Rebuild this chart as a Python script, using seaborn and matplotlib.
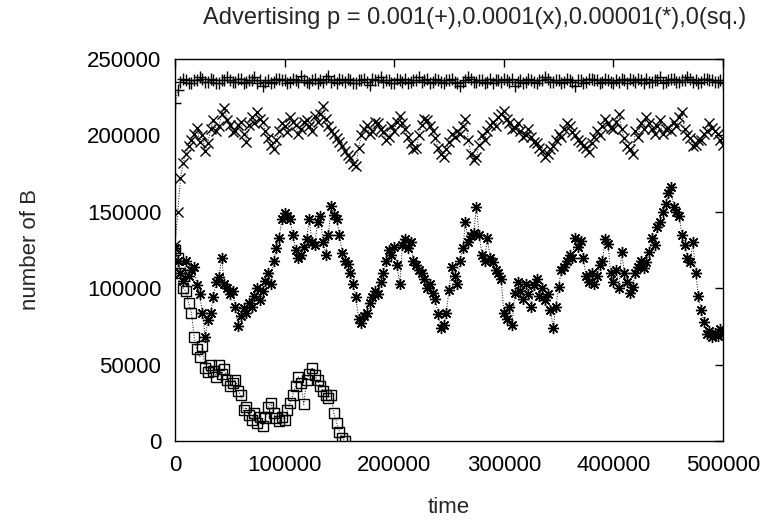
import numpy as np
import pandas as pd
import matplotlib
matplotlib.use("Agg")
import matplotlib.pyplot as plt
import seaborn as sns

# ======================
# Data (values in thousands)
# ======================
t_fine = np.arange(0, 500001, 2500)
t_sq = np.arange(0, 155001, 2500)

# p = 0.001  (+)
plus_k = [221, 230, 235, 237, 236, 234, 234, 236, 236, 238, 237, 235, 235, 237, 236, 234, 234, 236, 236, 238,
          236, 235, 235, 237, 237, 234, 235, 236, 236, 238, 234, 236, 232, 235, 236, 234, 235, 237, 237, 236,
          236, 234, 235, 237, 236, 235, 239, 236, 235, 234, 236, 237, 234, 236, 235, 237, 239, 235, 236, 234,
          237, 236, 235, 237, 236, 234, 234, 236, 236, 237, 235, 233, 237, 236, 236, 238, 235, 236, 236, 234,
          234, 237, 236, 235, 237, 234, 235, 236, 236, 238, 235, 236, 237, 234, 235, 237, 236, 235, 234, 236,
          236, 237, 235, 234, 232, 235, 236, 238, 237, 235, 235, 236, 236, 234, 235, 237, 234, 236, 236, 235,
          237, 236, 235, 237, 232, 235, 236, 234, 235, 237, 236, 235, 234, 236, 236, 238, 237, 235, 235, 236,
          236, 234, 235, 237, 236, 235, 232, 236, 236, 234, 235, 237, 237, 236, 236, 234, 235, 237, 236, 235,
          234, 236, 235, 237, 236, 234, 237, 236, 235, 237, 236, 234, 237, 235, 235, 236, 236, 238, 234, 235,
          236, 237, 237, 235, 235, 236, 236, 238, 237, 235, 236, 234, 235, 237, 237, 236, 236, 235, 235, 236,
          234]

# p = 0.0001  (x)
cross_k = [128, 150, 172, 182, 188, 193, 197, 201, 205, 196, 200, 190, 195, 204, 210, 203, 206, 214, 218, 210,
           207, 202, 203, 207, 209, 201, 196, 207, 212, 208, 215, 211, 209, 203, 198, 194, 191, 197, 203, 208,
           206, 202, 212, 209, 207, 201, 204, 209, 210, 206, 203, 213, 209, 214, 219, 211, 206, 203, 201, 198,
           196, 193, 190, 187, 185, 181, 180, 192, 200, 204, 207, 201, 203, 209, 208, 204, 202, 197, 199, 206,
           203, 209, 213, 208, 204, 199, 195, 191, 192, 200, 207, 211, 210, 206, 203, 198, 192, 188, 186, 191,
           196, 201, 199, 203, 201, 206, 211, 197, 188, 184, 186, 194, 200, 197, 203, 207, 209, 206, 212, 214,
           216, 211, 208, 204, 205, 208, 203, 199, 200, 204, 199, 196, 195, 192, 190, 186, 188, 191, 193, 197,
           201, 199, 204, 208, 206, 202, 200, 197, 196, 193, 192, 189, 195, 199, 203, 200, 206, 211, 208, 205,
           204, 209, 214, 204, 198, 193, 191, 188, 203, 199, 208, 204, 212, 208, 204, 201, 206, 210, 201, 204,
           205, 203, 209, 206, 212, 215, 204, 200, 198, 193, 194, 197, 197, 201, 203, 208, 205, 203, 201, 197,
           194]

# p = 0.00001  (*)
star_k = [126, 118, 110, 105, 118, 108, 112, 114, 102, 96,
          84, 68, 79, 84, 94, 104, 107, 120, 103, 100,
          96, 98, 88, 75, 82, 87, 84, 90, 88, 95,
          100, 92, 98, 105, 110, 103, 118, 126, 133, 145,
          149, 147, 145, 135, 125, 120, 122, 127, 132, 145,
          130, 128, 143, 147, 130, 122, 135, 154, 148, 145,
          135, 123, 118, 116, 110, 103, 94, 80, 77, 82,
          84, 90, 94, 98, 96, 104, 110, 118, 125, 122,
          127, 115, 103, 128, 132, 126, 130, 118, 115, 112,
          110, 106, 100, 103, 97, 93, 83, 74, 76, 84,
          99, 114, 108, 103, 118, 126, 143, 130, 134, 136,
          153, 135, 122, 118, 133, 120, 117, 112, 110, 106,
          84, 80, 88, 76, 97, 104, 98, 93, 103, 96,
          88, 102, 106, 95, 100, 92, 96, 86, 74, 88,
          101, 112, 114, 118, 122, 120, 133, 127, 131, 120,
          108, 104, 110, 103, 108, 115, 118, 132, 129, 110,
          104, 112, 100, 124, 110, 104, 97, 101, 110, 114,
          118, 113, 117, 124, 133, 128, 140, 143, 150, 155,
          162, 166, 153, 150, 147, 135, 128, 120, 117, 130,
          110, 95, 86, 78, 70, 72, 68, 71, 69, 73,
          70]

# p = 0  (sq.)
square_k = [125, 120, 110, 100, 98, 90, 84, 68, 60, 55,
            62, 48, 45, 50, 46, 42, 50, 44, 47, 40,
            36, 38, 40, 33, 30, 20, 22, 17, 14, 18,
            12, 16, 10, 15, 22, 25, 18, 15, 13, 16,
            14, 20, 25, 30, 36, 42, 38, 24, 40, 44,
            48, 43, 40, 36, 33, 30, 28, 30, 18, 12,
            6, 2, 0]

x_ticks = [0, 100000, 200000, 300000, 400000, 500000]
y_ticks = [0, 50000, 100000, 150000, 200000, 250000]

# ======================
# Plot
# ======================
sns.set_style("white")
plt.rcParams['font.family'] = ['Liberation Sans', 'DejaVu Sans']

fig = plt.figure(figsize=(7.71, 5.23), dpi=100)
ax = fig.add_axes([0.2270, 0.1568, 0.7108, 0.7304])

series = [
    (t_fine, plus_k, '+', dict(markersize=8)),
    (t_fine, cross_k, 'x', dict(markersize=6.5)),
    (t_fine, star_k, (8, 2, 0), dict(markersize=8)),
    (t_sq, square_k, 's', dict(markersize=6.5, fillstyle='none')),
]
for t, vals, mk, extra in series:
    df = pd.DataFrame({"time": t, "B": np.array(vals) * 1000})
    sns.lineplot(data=df, x="time", y="B", ax=ax, color="black",
                 linestyle=":", linewidth=0.7, marker=mk,
                 markeredgewidth=1.0, markeredgecolor="black", **extra)

ax.set_xlim(0, 500000)
ax.set_ylim(0, 250000)
ax.set_xticks(x_ticks)
ax.set_yticks(y_ticks)
ax.set_xticklabels([str(v) for v in x_ticks])
ax.set_yticklabels([str(v) for v in y_ticks])
ax.tick_params(direction="in", length=6, width=1, top=True, right=True,
               labelsize=16, colors="black", pad=10)
for s in ax.spines.values():
    s.set_linewidth(1.0)
    s.set_color("black")
ax.set_xlabel("")
ax.set_ylabel("")

fig.text(0.615, 0.965, "Advertising p = 0.001(+),0.0001(x),0.00001(*),0(sq.)",
         ha="center", va="center", fontsize=17)
fig.text(0.582, 0.029, "time", ha="center", va="center", fontsize=16)
fig.text(0.039, 0.522, "number of B", ha="center", va="center",
         rotation=90, fontsize=16)

fig.savefig("out.png", dpi=100)
